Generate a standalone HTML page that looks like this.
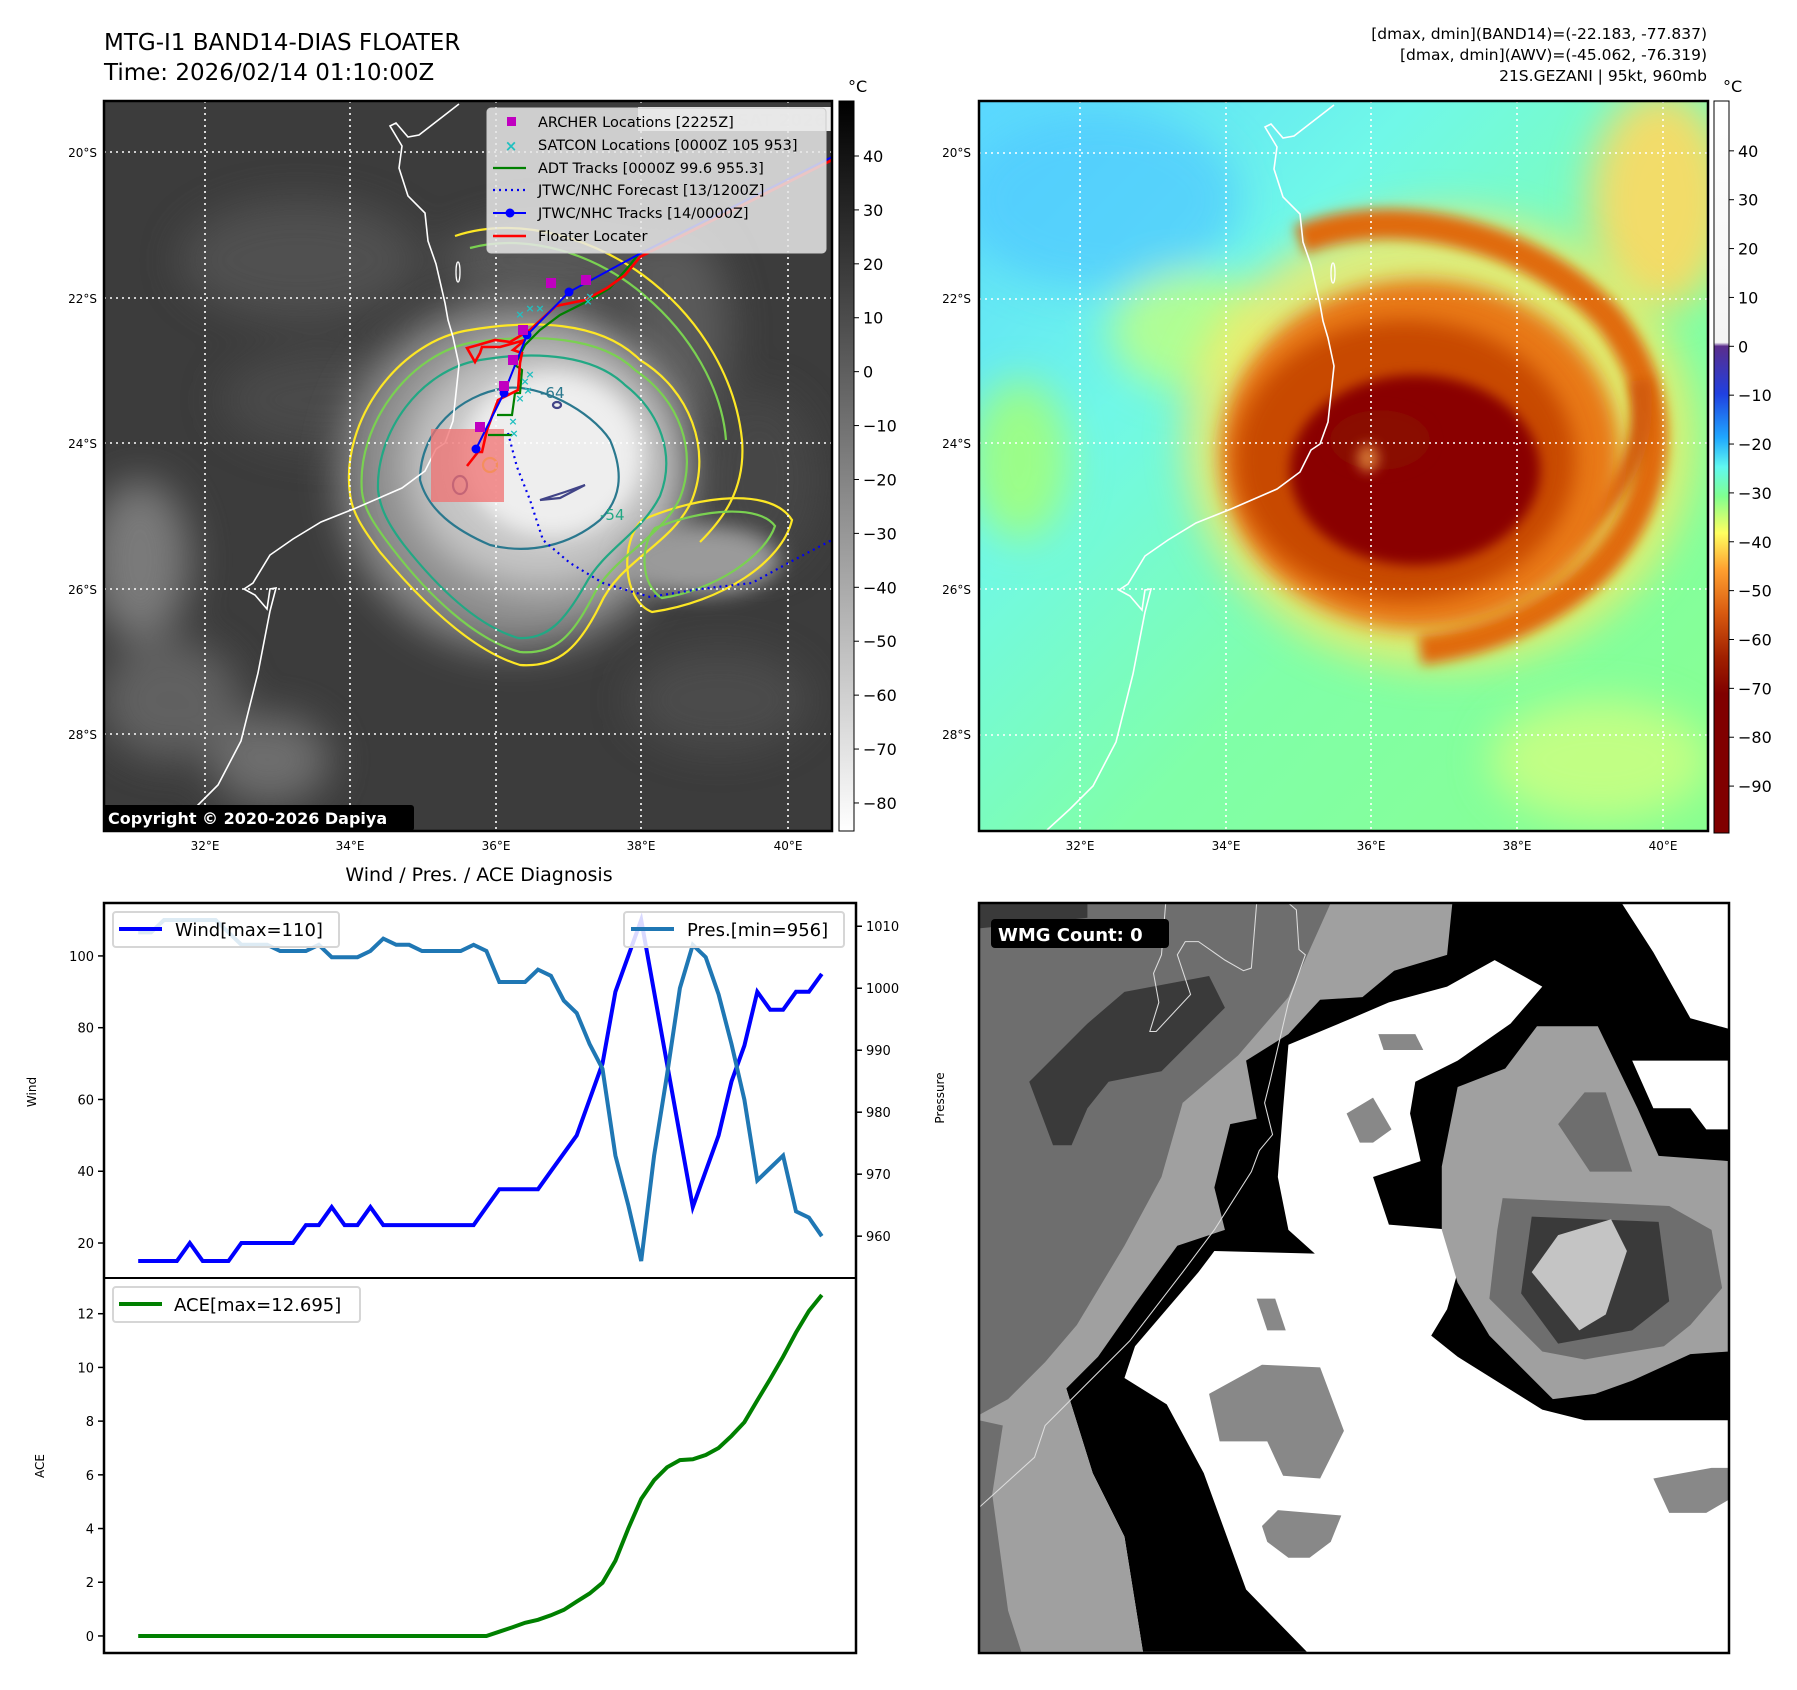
<!DOCTYPE html>
<html><head><meta charset="utf-8">
<style>
html,body{margin:0;padding:0;background:#fff;}
svg{display:block;font-family:"DejaVu Sans","Liberation Sans",sans-serif;}
</style></head>
<body>
<svg id="fig" width="1797" height="1690" viewBox="0 0 1797 1690" xmlns="http://www.w3.org/2000/svg">
<defs>
  <clipPath id="clipL"><rect x="104" y="101" width="728" height="730"/></clipPath>
  <clipPath id="clipR"><rect x="979" y="101" width="729" height="730"/></clipPath>
  <clipPath id="clipB"><rect x="55" y="82" width="1418" height="1416"/></clipPath>
  <filter id="blur20" x="-50%" y="-50%" width="200%" height="200%"><feGaussianBlur stdDeviation="20"/></filter>
  <filter id="blur10" x="-50%" y="-50%" width="200%" height="200%"><feGaussianBlur stdDeviation="10"/></filter>
  <filter id="blur6" x="-50%" y="-50%" width="200%" height="200%"><feGaussianBlur stdDeviation="6"/></filter>
  <linearGradient id="cbGray" x1="0" y1="0" x2="0" y2="1">
    <stop offset="0" stop-color="#000"/><stop offset="1" stop-color="#fff"/>
  </linearGradient>
  <linearGradient id="cbColor" x1="0" y1="0" x2="0" y2="1">
    <stop offset="0" stop-color="#ffffff"/>
    <stop offset="0.33" stop-color="#f4f4f4"/>
    <stop offset="0.335" stop-color="#5a2d8c"/>
    <stop offset="0.40" stop-color="#2040e0"/>
    <stop offset="0.46" stop-color="#20a8ff"/>
    <stop offset="0.50" stop-color="#60f8f0"/>
    <stop offset="0.54" stop-color="#80ff90"/>
    <stop offset="0.59" stop-color="#ffff60"/>
    <stop offset="0.64" stop-color="#ffa030"/>
    <stop offset="0.70" stop-color="#d85a10"/>
    <stop offset="0.76" stop-color="#a02000"/>
    <stop offset="0.81" stop-color="#800000"/>
    <stop offset="1" stop-color="#800000"/>
  </linearGradient>
  <linearGradient id="bgR" x1="0" y1="0" x2="1" y2="1">
    <stop offset="0" stop-color="#5ad8ff"/>
    <stop offset="0.3" stop-color="#70f8e8"/>
    <stop offset="0.6" stop-color="#80ffa8"/>
    <stop offset="1" stop-color="#88ff90"/>
  </linearGradient>
</defs>

<!-- Titles -->
<text x="104" y="50" font-size="23" fill="#000">MTG-I1 BAND14-DIAS FLOATER</text>
<text x="104" y="80" font-size="23" fill="#000">Time: 2026/02/14 01:10:00Z</text>
<g font-size="15.5" text-anchor="end" fill="#000">
  <text x="1707" y="39">[dmax, dmin](BAND14)=(-22.183, -77.837)</text>
  <text x="1707" y="60">[dmax, dmin](AWV)=(-45.062, -76.319)</text>
  <text x="1707" y="81">21S.GEZANI | 95kt, 960mb</text>
</g>

<!-- LEFT MAP -->
<g>
<g clip-path="url(#clipL)">
  <rect x="104" y="101" width="728" height="730" fill="#3c3c3c"/>
  <g filter="url(#blur20)" opacity="0.8">
    <ellipse cx="300" cy="260" rx="120" ry="60" fill="#555"/>
    <ellipse cx="330" cy="400" rx="110" ry="50" fill="#4e4e4e"/>
    <ellipse cx="140" cy="560" rx="50" ry="80" fill="#8a8a8a"/>
    <ellipse cx="170" cy="700" rx="70" ry="60" fill="#6a6a6a"/>
    <ellipse cx="270" cy="760" rx="60" ry="45" fill="#7a7a7a"/>
    <ellipse cx="720" cy="700" rx="90" ry="50" fill="#505050"/>
    <ellipse cx="760" cy="480" rx="60" ry="90" fill="#4a4a4a"/>
    <ellipse cx="560" cy="260" rx="120" ry="40" fill="#5e5e5e"/>
    <ellipse cx="680" cy="330" rx="50" ry="100" fill="#626262"/>
  </g>
  <ellipse cx="515" cy="475" rx="175" ry="175" fill="#8c8c8c" filter="url(#blur20)"/>
  <ellipse cx="540" cy="465" rx="135" ry="125" fill="#c6c6c6" filter="url(#blur20)"/>
  <ellipse cx="552" cy="455" rx="90" ry="82" fill="#eeeeee" filter="url(#blur10)"/>
  <ellipse cx="700" cy="560" rx="80" ry="35" fill="#9a9a9a" filter="url(#blur10)"/>
  <!-- contours -->
  <g fill="none" stroke-width="2.2">
    <path d="M350,494 C340,420 400,340 470,330 C530,320 600,320 640,360 C690,390 712,450 692,500 C672,545 620,560 600,605 C580,645 560,668 520,665 C470,650 420,600 380,552 C362,528 352,512 350,494 Z" stroke="#fde725"/>
    <path d="M455,236 C520,214 600,240 652,282 C702,322 736,380 742,440 C746,490 722,520 700,542" stroke="#fde725"/>
    <path d="M642,520 C702,494 772,488 792,520 C782,562 722,602 652,612 C622,600 620,542 642,520 Z" stroke="#fde725"/>
    <path d="M362,492 C356,425 410,352 475,342 C535,334 600,336 635,370 C680,400 698,452 680,498 C660,540 612,556 592,598 C572,636 555,655 520,652 C475,640 428,595 392,548 C372,522 364,508 362,492 Z" stroke="#7ad151"/>
    <path d="M470,248 C530,232 600,256 645,296 C690,334 722,388 726,440" stroke="#7ad151"/>
    <path d="M655,528 C705,508 760,505 775,526 C765,556 715,590 662,598 C640,585 640,545 655,528 Z" stroke="#7ad151"/>
    <path d="M378,490 C376,432 420,370 480,360 C540,350 595,356 625,385 C660,412 676,455 660,496 C640,535 605,548 585,585 C565,620 548,640 518,638 C478,626 438,588 404,545 C388,524 380,508 378,490 Z" stroke="#22a884"/>
    <path d="M420,480 C420,430 460,395 505,388 C540,384 590,410 610,440 C625,475 620,500 600,520 C570,545 530,555 490,545 C455,530 428,510 420,480 Z" stroke="#2a788e"/>
    <path d="M540,500 L565,492 L585,485 L560,498 Z" stroke="#414487"/>
    <ellipse cx="460" cy="485" rx="7" ry="9" stroke="#414487"/>
    <ellipse cx="557" cy="405" rx="4" ry="3" stroke="#414487"/>
    <ellipse cx="490" cy="465" rx="7" ry="7" stroke="#fde725"/>
  </g>
  <text x="540" y="398" font-size="15" fill="#2a788e">-64</text>
  <text x="600" y="520" font-size="15" fill="#22a884">-54</text>
  <!-- grid -->
  <g stroke="#fff" stroke-width="1.6" stroke-dasharray="2,4">
    <line x1="205" y1="101" x2="205" y2="831"/><line x1="350" y1="101" x2="350" y2="831"/>
    <line x1="496" y1="101" x2="496" y2="831"/><line x1="641" y1="101" x2="641" y2="831"/>
    <line x1="788" y1="101" x2="788" y2="831"/>
    <line x1="104" y1="152" x2="832" y2="152"/><line x1="104" y1="298" x2="832" y2="298"/>
    <line x1="104" y1="443" x2="832" y2="443"/><line x1="104" y1="589" x2="832" y2="589"/>
    <line x1="104" y1="734" x2="832" y2="734"/>
  </g>
  <!-- coastline -->
  <polyline id="coastL" fill="none" stroke="#fff" stroke-width="1.6"
    points="459,104 419,135 408,137 396,123 390,126 402,146 399,168 408,196 425,213 428,241 436,264 445,303 448,320 453,337 459,365 456,393 453,421 445,443 436,449 425,471 402,488 356,508 321,522 293,539 270,555 253,583 244,589 255,595 267,609 270,589 276,588 270,611 258,673 241,741 218,785 195,808 172,829"/>
  <ellipse cx="458" cy="272" rx="2" ry="10" fill="none" stroke="#fff" stroke-width="1.3"/>
  <!-- floater rect -->
  <rect x="431" y="429" width="73" height="73" fill="#f07070" opacity="0.75"/>
  <!-- tracks -->
  <polyline points="508,433 517,467 530,500 543,540 570,563 603,583 650,597 700,589 752,583 792,561 832,540" fill="none" stroke="#0000ee" stroke-width="2.2" stroke-dasharray="2,4"/>
  <polyline points="497,415 512,415 515,393 520,393 522,370 515,365 525,345 540,330 560,315 590,300 610,288 630,265 640,252" fill="none" stroke="#008000" stroke-width="2.2"/>
  <line x1="488" y1="435" x2="512" y2="435" stroke="#008000" stroke-width="2.2"/>
  <polyline points="467,466 478,452 482,452 487,430 498,400 518,390 520,363 522,353 513,350 525,340 500,347 482,347 480,353 475,362 467,348 478,345 495,340 510,342 530,330 556,306 585,300 607,288 625,275 640,257 832,160" fill="none" stroke="#ff0000" stroke-width="2.6"/>
  <polyline points="476,449 504,393 527,335 569,292 643,252 832,157" fill="none" stroke="#0000ff" stroke-width="2"/>
  <g fill="#0000ff"><circle cx="476" cy="449" r="4.5"/><circle cx="504" cy="393" r="4.5"/><circle cx="527" cy="335" r="4.5"/><circle cx="569" cy="292" r="4.5"/></g>
  <g fill="#c000c0">
    <rect x="546" y="278" width="10" height="10"/><rect x="581" y="275" width="10" height="10"/>
    <rect x="518" y="325" width="10" height="10"/><rect x="508" y="355" width="10" height="10"/>
    <rect x="499" y="381" width="10" height="10"/><rect x="475" y="422" width="10" height="10"/>
  </g>
  <g fill="#20c0c0" font-size="11" font-weight="bold" text-anchor="middle">
    <text x="520" y="318">×</text><text x="530" y="312">×</text><text x="588" y="305">×</text><text x="590" y="300">×</text>
    <text x="525" y="385">×</text><text x="528" y="394">×</text><text x="520" y="402">×</text><text x="513" y="425">×</text>
    <text x="514" y="437">×</text><text x="530" y="378">×</text><text x="540" y="312">×</text>
  </g>
  <!-- watermark -->
  <rect x="638" y="107" width="194" height="24" fill="#fff" opacity="0.9"/>
  <text x="826" y="126" font-size="17" font-weight="bold" fill="#e0e0e0" text-anchor="end">© EUMETSAT 2026</text>
  <!-- legend -->
  <g>
    <rect x="487" y="108" width="339" height="145" rx="4" fill="#e8e8e8" fill-opacity="0.85" stroke="#cccccc"/>
    <rect x="507" y="117" width="9" height="9" fill="#c000c0"/>
    <text x="511" y="151" font-size="15" font-weight="bold" fill="#20c0c0" text-anchor="middle">×</text>
    <line x1="493" y1="168" x2="526" y2="168" stroke="#008000" stroke-width="2.2"/>
    <line x1="493" y1="190" x2="526" y2="190" stroke="#0000ee" stroke-width="2.2" stroke-dasharray="2,4"/>
    <line x1="493" y1="213" x2="526" y2="213" stroke="#0000ff" stroke-width="2"/><circle cx="510" cy="213" r="4.5" fill="#0000ff"/>
    <line x1="493" y1="236" x2="526" y2="236" stroke="#ff0000" stroke-width="2.6"/>
    <g font-size="14.5" fill="#000">
      <text x="538" y="127">ARCHER Locations [2225Z]</text>
      <text x="538" y="150">SATCON Locations [0000Z 105 953]</text>
      <text x="538" y="173">ADT Tracks [0000Z 99.6 955.3]</text>
      <text x="538" y="195">JTWC/NHC Forecast [13/1200Z]</text>
      <text x="538" y="218">JTWC/NHC Tracks [14/0000Z]</text>
      <text x="538" y="241">Floater Locater</text>
    </g>
  </g>
  <g>
    <rect x="102" y="805" width="312" height="26" rx="3" fill="#000"/>
    <text x="108" y="824" font-size="16" font-weight="bold" fill="#fff">Copyright © 2020-2026 Dapiya</text>
  </g>
</g>
<rect x="104" y="101" width="728" height="730" fill="none" stroke="#000" stroke-width="2.5"/>
</g>
<g font-size="12" fill="#000" text-anchor="end">
  <text x="97" y="157">20°S</text><text x="97" y="303">22°S</text><text x="97" y="448">24°S</text><text x="97" y="594">26°S</text><text x="97" y="739">28°S</text>
</g>
<g font-size="12" fill="#000" text-anchor="middle">
  <text x="205" y="850">32°E</text><text x="350" y="850">34°E</text><text x="496" y="850">36°E</text><text x="641" y="850">38°E</text><text x="788" y="850">40°E</text>
</g>
<!-- left colorbar -->
<g>
  <rect x="839" y="101" width="15" height="730" fill="url(#cbGray)" stroke="#000" stroke-width="1"/>
  <text x="848" y="92" font-size="16">°C</text>
  <g id="cbLticks" font-size="16" fill="#000"></g>
</g>

<!-- RIGHT MAP -->
<g>
<g clip-path="url(#clipR)">
  <rect x="979" y="101" width="729" height="730" fill="url(#bgR)"/>
  <g filter="url(#blur20)">
    <ellipse cx="1100" cy="200" rx="140" ry="90" fill="#50c8ff" opacity="0.7"/>
    <ellipse cx="1190" cy="330" rx="80" ry="60" fill="#c0ff80" opacity="0.8"/>
    <ellipse cx="1660" cy="200" rx="70" ry="110" fill="#ffd860" opacity="0.9"/>
    <ellipse cx="1600" cy="760" rx="110" ry="60" fill="#d0ff80" opacity="0.8"/>
    <ellipse cx="1020" cy="460" rx="50" ry="80" fill="#a8ff70" opacity="0.8"/>
  </g>
  <ellipse cx="1440" cy="440" rx="255" ry="228" fill="#ffe860" filter="url(#blur20)" opacity="0.75"/>
  <path d="M1300,240 C1400,200 1540,240 1610,320 C1670,400 1660,480 1620,540 C1580,600 1500,640 1420,650" fill="none" stroke="#e06a10" stroke-width="30" filter="url(#blur6)"/>
  <path d="M1560,540 C1620,500 1650,450 1640,380" fill="none" stroke="#d05a08" stroke-width="20" filter="url(#blur6)"/>
  <ellipse cx="1420" cy="455" rx="200" ry="175" fill="#e87818" filter="url(#blur10)"/>
  <ellipse cx="1405" cy="460" rx="170" ry="140" fill="#c84800" filter="url(#blur10)"/>
  <ellipse cx="1415" cy="470" rx="125" ry="95" fill="#8a0000" filter="url(#blur6)"/>
  <ellipse cx="1380" cy="440" rx="50" ry="30" fill="#8a0800" filter="url(#blur6)"/>
  <ellipse cx="1368" cy="458" rx="11" ry="14" fill="#d07030" filter="url(#blur6)"/>
  <g stroke="#fff" stroke-width="1.6" stroke-dasharray="2,4">
    <line x1="1080" y1="101" x2="1080" y2="831"/><line x1="1226" y1="101" x2="1226" y2="831"/>
    <line x1="1371" y1="101" x2="1371" y2="831"/><line x1="1517" y1="101" x2="1517" y2="831"/>
    <line x1="1663" y1="101" x2="1663" y2="831"/>
    <line x1="979" y1="153" x2="1708" y2="153"/><line x1="979" y1="299" x2="1708" y2="299"/>
    <line x1="979" y1="443" x2="1708" y2="443"/><line x1="979" y1="589" x2="1708" y2="589"/>
    <line x1="979" y1="735" x2="1708" y2="735"/>
  </g>
  <use href="#coastL" transform="translate(875,1)"/>
  <ellipse cx="1333" cy="273" rx="2" ry="10" fill="none" stroke="#fff" stroke-width="1.3"/>
</g>
<rect x="979" y="101" width="729" height="730" fill="none" stroke="#000" stroke-width="2.5"/>
</g>
<g font-size="12" fill="#000" text-anchor="end">
  <text x="971" y="157">20°S</text><text x="971" y="303">22°S</text><text x="971" y="448">24°S</text><text x="971" y="594">26°S</text><text x="971" y="739">28°S</text>
</g>
<g font-size="12" fill="#000" text-anchor="middle">
  <text x="1080" y="850">32°E</text><text x="1226" y="850">34°E</text><text x="1371" y="850">36°E</text><text x="1517" y="850">38°E</text><text x="1663" y="850">40°E</text>
</g>
<g>
  <rect x="1714" y="101" width="15" height="732" fill="url(#cbColor)" stroke="#000" stroke-width="1"/>
  <text x="1723" y="92" font-size="16">°C</text>
  <g id="cbRticks" font-size="16" fill="#000"></g>
</g>

<!-- DIAGNOSIS CHART -->
<text x="479" y="881" font-size="19" text-anchor="middle">Wind / Pres. / ACE Diagnosis</text>
<g id="diag">
  <rect x="104" y="903" width="752" height="750" fill="#fff"/>
  <g id="diagMarks"></g>
  <g id="diagTicks" font-size="13" fill="#000"></g>
  <line x1="104" y1="1278" x2="856" y2="1278" stroke="#000" stroke-width="2"/>
  <rect x="104" y="903" width="752" height="750" fill="none" stroke="#000" stroke-width="2.5"/>
  <text transform="translate(36,1092) rotate(-90)" font-size="12" text-anchor="middle">Wind</text>
  <text transform="translate(944,1098) rotate(-90)" font-size="12" text-anchor="middle">Pressure</text>
  <text transform="translate(44,1466) rotate(-90)" font-size="12" text-anchor="middle">ACE</text>
  <g>
    <rect x="113" y="912" width="226" height="35" rx="3" fill="#fff" fill-opacity="0.85" stroke="#d6d6d6" stroke-width="2"/>
    <line x1="119" y1="929" x2="162" y2="929" stroke="#0000ff" stroke-width="4"/>
    <text x="175" y="936" font-size="18">Wind[max=110]</text>
  </g>
  <g>
    <rect x="624" y="912" width="220" height="35" rx="3" fill="#fff" fill-opacity="0.85" stroke="#d6d6d6" stroke-width="2"/>
    <line x1="631" y1="929" x2="674" y2="929" stroke="#1f77b4" stroke-width="4"/>
    <text x="687" y="936" font-size="18">Pres.[min=956]</text>
  </g>
  <g>
    <rect x="113" y="1287" width="247" height="35" rx="3" fill="#fff" fill-opacity="0.85" stroke="#d6d6d6" stroke-width="2"/>
    <line x1="119" y1="1304" x2="162" y2="1304" stroke="#008000" stroke-width="4"/>
    <text x="174" y="1311" font-size="18">ACE[max=12.695]</text>
  </g>
</g>

<!-- WMG PANEL -->
<g>
<g transform="translate(979,903) scale(0.5289) translate(-55,-82)">
 <g clip-path="url(#clipB)">
  <rect x="55" y="82" width="1418" height="1416" fill="#fff"/>
  <polygon fill="#000" points="720,82 1270,82 1473,320 1473,1060 1330,1060 1200,1060 1120,1040 960,940 910,900 940,850 960,780 950,700 830,690 800,600 890,570 870,480 880,420 960,380 1060,310 1120,240 1030,190 940,240 830,270 760,300 640,350 630,470 620,600 640,700 690,745 500,740 470,780 350,920 330,980 410,1030 480,1160 560,1380 675,1498 365,1498 330,1280 270,1160 220,1000 55,1050"/>
  <polygon fill="#a0a0a0" points="55,82 950,82 940,180 840,210 780,260 700,265 640,330 560,380 580,490 530,500 500,620 520,700 430,730 350,840 280,940 220,1000 270,1160 330,1280 365,1498 55,1498"/>
  <polygon fill="#6e6e6e" points="55,82 720,82 640,260 545,370 440,460 400,600 330,730 240,880 180,950 110,1020 55,1050"/>
  <polygon fill="#6e6e6e" points="55,1060 100,1070 80,1200 110,1420 135,1498 55,1498"/>
  <polygon fill="#3a3a3a" points="330,250 490,220 520,280 450,350 400,400 300,420 260,470 230,540 195,540 150,420 200,370 260,310"/>
  <polygon fill="#3a3a3a" points="55,82 260,82 260,110 55,130"/>
  <polygon fill="#fff" points="1270,82 1473,82 1473,320 1400,300 1330,175"/>
  <polygon fill="#fff" points="1290,380 1473,380 1473,510 1430,510 1400,470 1330,470"/>
  <polygon fill="#a0a0a0" points="1110,315 1225,315 1300,470 1340,560 1473,570 1473,930 1400,935 1290,985 1220,1010 1140,1020 1020,900 960,800 930,700 930,580 960,430 1050,395"/>
  <polygon fill="#6e6e6e" points="1200,440 1240,440 1290,590 1210,590 1150,500"/>
  <polygon fill="#6e6e6e" points="1045,640 1360,655 1440,700 1460,810 1400,880 1350,920 1200,945 1120,930 1020,830 1035,700"/>
  <polygon fill="#3a3a3a" points="1100,675 1340,685 1360,835 1290,890 1150,915 1080,820"/>
  <polygon fill="#c4c4c4" points="1150,710 1250,680 1280,740 1240,860 1190,890 1100,780"/>
  <g fill="#888">
    <polygon points="490,1010 590,955 700,960 745,1080 700,1170 630,1165 600,1100 510,1100"/>
    <polygon points="590,1260 620,1230 740,1240 720,1290 680,1320 640,1320 600,1290"/>
    <polygon points="580,830 615,830 635,890 600,890"/>
    <polygon points="750,480 800,450 835,510 800,535 775,535"/>
    <polygon points="810,330 880,330 895,360 820,360"/>
    <polygon points="1330,1170 1440,1150 1473,1150 1473,1210 1430,1235 1360,1235"/>
  </g>
  <polyline fill="none" stroke="#ddd" stroke-width="2" points="408,82 400,180 385,215 395,270 378,325 390,325 455,255 430,180 445,155 470,155 520,190 555,210 570,205 580,82"/>
  <polyline fill="none" stroke="#ddd" stroke-width="2" points="640,82 655,95 660,170 672,180 640,270 605,420 595,460 610,520 585,550 570,590 500,700 440,780 340,910 180,1070 160,1130 55,1225"/>
 </g>
</g>
<rect x="979" y="903" width="750" height="750" fill="none" stroke="#000" stroke-width="2.5"/>
<g>
  <rect x="991" y="919" width="178" height="29" rx="4" fill="#000"/>
  <text x="998" y="941" font-size="18" font-weight="bold" fill="#fff">WMG Count: 0</text>
</g>
</g>

<script>
// ---- Diagnosis chart data ----
const windValues = [15,15,15,15,20,15,15,15,20,20,20,20,20,25,25,30,25,25,30,25,25,25,25,25,25,25,25,30,35,35,35,35,40,45,50,60,70,90,100,110,90,70,50,30,40,50,65,75,90,85,85,90,90,95];
const pressureValues = [1009,1009,1011,1011,1011,1011,1011,1009,1007,1007,1007,1006,1006,1006,1007,1005,1005,1005,1006,1008,1007,1007,1006,1006,1006,1006,1007,1006,1001,1001,1001,1003,1002,998,996,991,987,973,965,956,973,986,1000,1007,1005,999,991,982,969,971,973,964,963,960];
const aceValues = [0,0,0,0,0,0,0,0,0,0,0,0,0,0,0,0,0,0,0,0,0,0,0,0,0,0,0,0,0.16,0.32,0.49,0.6,0.77,0.97,1.28,1.58,1.98,2.8,4.0,5.1,5.8,6.28,6.55,6.58,6.74,7.0,7.45,7.96,8.77,9.57,10.4,11.3,12.1,12.695];
const windTicks = [20,40,60,80,100];
const pressureTicks = [960,970,980,990,1000,1010];
const aceTicks = [0,2,4,6,8,10,12];
const cbLeftTicks = [40,30,20,10,0,-10,-20,-30,-40,-50,-60,-70,-80];
const cbRightTicks = [40,30,20,10,0,-10,-20,-30,-40,-50,-60,-70,-80,-90];

const NS = 'http://www.w3.org/2000/svg';
const L = 104, R = 856, T1 = 903, B1 = 1278, T2 = 1278, B2 = 1653;
function ext(a){ return [Math.min.apply(null,a), Math.max.apply(null,a)]; }
function pad(e){ const d=(e[1]-e[0])*0.05; return [e[0]-d, e[1]+d]; }
const n = windValues.length;
const xd = pad([0, n-1]);
const wd = pad(ext(windValues));
const pd = pad(ext(pressureValues));
const ad = pad(ext(aceValues));
function xS(i){ return L + (i - xd[0])/(xd[1]-xd[0])*(R-L); }
function yW(v){ return T1 + (wd[1]-v)/(wd[1]-wd[0])*(B1-T1); }
function yP(v){ return T1 + (pd[1]-v)/(pd[1]-pd[0])*(B1-T1); }
function yA(v){ return T2 + (ad[1]-v)/(ad[1]-ad[0])*(B2-T2); }

const marks = document.getElementById('diagMarks');
function line(vals, yf, color, name){
  const p = document.createElementNS(NS,'polyline');
  p.setAttribute('points', vals.map((v,i)=>xS(i).toFixed(1)+','+yf(v).toFixed(1)).join(' '));
  p.setAttribute('fill','none'); p.setAttribute('stroke',color); p.setAttribute('stroke-width','4');
  p.setAttribute('stroke-linejoin','miter');
  
  
  marks.appendChild(p);
}
line(windValues, yW, '#0000ff', 'wind-line');
line(pressureValues, yP, '#1f77b4', 'pressure-line');
line(aceValues, yA, '#008000', 'ace-line');

const tk = document.getElementById('diagTicks');
function tick(x1,y,x2,label,tx,anchor,name){
  const l = document.createElementNS(NS,'line');
  l.setAttribute('x1',x1); l.setAttribute('x2',x2); l.setAttribute('y1',y); l.setAttribute('y2',y);
  l.setAttribute('stroke','#000'); l.setAttribute('stroke-width','1.5');
  tk.appendChild(l);
  const t = document.createElementNS(NS,'text');
  t.setAttribute('x',tx); t.setAttribute('y',y+5); t.setAttribute('text-anchor',anchor);
  t.textContent = label;
  
  
  tk.appendChild(t);
}
windTicks.forEach(v=>tick(L-6,yW(v),L,String(v),L-10,'end','wind-tick-label'));
pressureTicks.forEach(v=>tick(R,yP(v),R+6,String(v),R+10,'start','pressure-tick-label'));
aceTicks.forEach(v=>tick(L-6,yA(v),L,String(v),L-10,'end','ace-tick-label'));

function cbTicks(id, vals, x, top, bottom, vmax, vmin, name){
  const g = document.getElementById(id);
  vals.forEach(v=>{
    const y = top + (vmax - v)/(vmax - vmin)*(bottom-top);
    const l = document.createElementNS(NS,'line');
    l.setAttribute('x1',x); l.setAttribute('x2',x+5); l.setAttribute('y1',y); l.setAttribute('y2',y);
    l.setAttribute('stroke','#000'); l.setAttribute('stroke-width','1');
    g.appendChild(l);
    const t = document.createElementNS(NS,'text');
    t.setAttribute('x',x+9); t.setAttribute('y',y+6);
    t.textContent = v < 0 ? '\u2212' + Math.abs(v) : String(v);
    
    
    g.appendChild(t);
  });
}
cbTicks('cbLticks', cbLeftTicks, 854, 101, 831, 50.2, -85.2, 'left-colorbar-tick');
cbTicks('cbRticks', cbRightTicks, 1729, 101, 833, 50.2, -99.6, 'right-colorbar-tick');
</script>
</svg>
</body></html>
